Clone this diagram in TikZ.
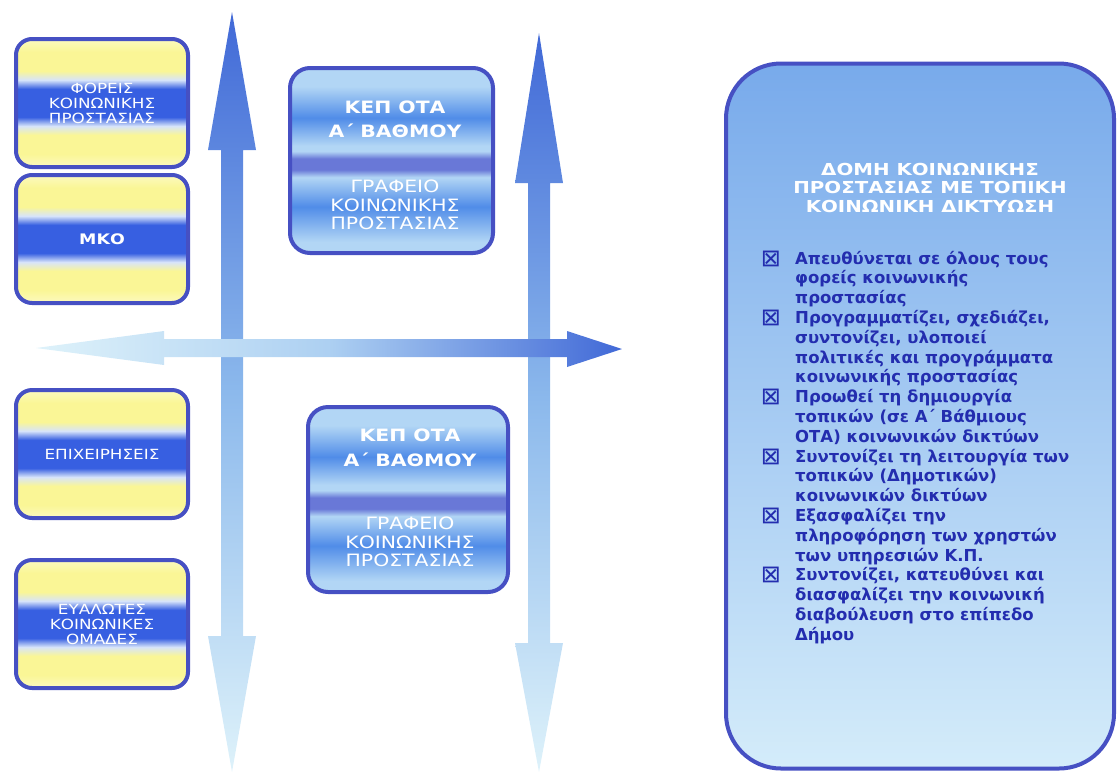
\documentclass[tikz,border=0pt]{standalone}
\usepackage{fontspec}
\setmainfont{DejaVu Sans}
\newfontfamily\widefont[FakeStretch=1.2]{DejaVu Sans}
\usetikzlibrary{positioning}

\definecolor{frameblue}{RGB}{70,80,195}
\definecolor{boxyel}{RGB}{250,246,150}
\definecolor{boxpale}{RGB}{215,228,250}
\definecolor{boxblue}{RGB}{55,95,225}
\definecolor{kepl}{RGB}{178,214,245}
\definecolor{kepm}{RGB}{80,140,232}
\definecolor{keps}{RGB}{105,120,215}
\definecolor{arrdark}{RGB}{65,105,215}
\definecolor{arrmid}{RGB}{140,185,236}
\definecolor{arrpale}{RGB}{222,242,250}
\definecolor{paneltop}{RGB}{120,170,235}
\definecolor{panelbot}{RGB}{212,236,250}
\definecolor{textblue}{RGB}{35,45,175}

% colour stops from bottom to top, the path covers 25bp..75bp
\pgfdeclareverticalshading{leftshade}{100bp}{color(0bp)=(boxyel!60!white); color(25bp)=(boxyel!60!white); color(30bp)=(boxyel); color(37.5bp)=(boxyel); color(41bp)=(boxpale); color(44.5bp)=(boxblue); color(55.5bp)=(boxblue); color(59bp)=(boxpale); color(62.5bp)=(boxyel); color(70bp)=(boxyel); color(75bp)=(boxyel!60!white); color(100bp)=(boxyel!60!white)}
\pgfdeclareverticalshading{kepshade}{100bp}{color(0bp)=(kepl); color(28bp)=(kepl); color(37.5bp)=(kepm); color(45.5bp)=(kepl); color(47.5bp)=(keps); color(50.5bp)=(keps); color(52.5bp)=(kepl); color(54bp)=(kepl); color(61.5bp)=(kepm); color(70bp)=(kepl); color(100bp)=(kepl)}

\tikzset{
  partner/.style={draw=frameblue, line width=4pt, rounded corners=16pt, shading=leftshade,
    minimum width=172pt, minimum height=128pt, text=white, align=center, inner sep=0pt,
    font=\widefont\fontsize{14}{15}\selectfont},
  kepbox/.style={draw=frameblue, line width=4pt, rounded corners=20pt, shading=kepshade, inner sep=0pt},
  keptext/.style={text=white, inner sep=0pt, font=\widefont\bfseries\fontsize{17}{19}\selectfont},
  officetext/.style={text=white, inner sep=0pt, align=center, font=\widefont\fontsize{17}{18.5}\selectfont},
  listline/.style={text=textblue, inner sep=0pt, anchor=base west, font=\bfseries\fontsize{16.5}{19.8}\selectfont},
  bulletmark/.style={text=textblue, inner sep=0pt, anchor=base, font=\fontsize{24}{19.8}\selectfont}
}

\begin{document}
\begin{tikzpicture}[x=1pt,y=-1pt]
\useasboundingbox (0,0) rectangle (1118,777);

% vertical double arrows
\shade[top color=arrdark, bottom color=arrpale, middle color=arrmid]
  (221,150) -- (208,150) -- (232,12) -- (256,150) -- (243,150) -- (243,636)
  -- (256,636) -- (232,772) -- (208,636) -- (221,636) -- cycle;
\shade[top color=arrdark, bottom color=arrpale, middle color=arrmid]
  (528,183) -- (515,183) -- (539,33) -- (563,183) -- (550,183) -- (550,643)
  -- (563,643) -- (539,772) -- (515,643) -- (528,643) -- cycle;

% horizontal double arrow
\shade[left color=arrpale, right color=arrdark, middle color=arrmid!60!arrpale]
  (36,348) -- (164,331) -- (164,339) -- (567,339) -- (567,331) -- (622,349)
  -- (567,367) -- (567,357) -- (164,357) -- (164,365) -- cycle;

% left column
\node[partner] (foreis) at (102,103) {ΦΟΡΕΙΣ\\ΚΟΙΝΩΝΙΚΗΣ\\ΠΡΟΣΤΑΣΙΑΣ};
\node[partner, font=\widefont\bfseries\fontsize{14.5}{16}\selectfont] (mko) at (102,239) {ΜΚΟ};
\node[partner] (epix) at (102,454) {ΕΠΙΧΕΙΡΗΣΕΙΣ};
\node[partner] (eval) at (102,624) {ΕΥΑΛΩΤΕΣ\\ΚΟΙΝΩΝΙΚΕΣ\\ΟΜΑΔΕΣ};

% KEP boxes
\node[kepbox, minimum width=203pt, minimum height=185pt] (kepA) at (391.5,160.5) {};
\node[keptext, anchor=base] (kepAa) at (395,113) {ΚΕΠ ΟΤΑ};
\node[keptext, anchor=base] (kepAb) at (395,137) {Α΄ ΒΑΘΜΟΥ};
\node[officetext, anchor=north] (kepAc) at (395,180) {ΓΡΑΦΕΙΟ\\ΚΟΙΝΩΝΙΚΗΣ\\ΠΡΟΣΤΑΣΙΑΣ};

\node[kepbox, minimum width=200pt, minimum height=185pt] (kepB) at (408,499.5) {};
\node[keptext, anchor=base] (kepBa) at (410,441) {ΚΕΠ ΟΤΑ};
\node[keptext, anchor=base] (kepBb) at (410,466) {Α΄ ΒΑΘΜΟΥ};
\node[officetext, anchor=north] (kepBc) at (410,517) {ΓΡΑΦΕΙΟ\\ΚΟΙΝΩΝΙΚΗΣ\\ΠΡΟΣΤΑΣΙΑΣ};

% right panel
\node[draw=frameblue, line width=4pt, rounded corners=55pt, top color=paneltop, bottom color=panelbot,
  minimum width=388pt, minimum height=705pt, inner sep=0pt] (panel) at (920,416) {};
\node[text=white, align=center, inner sep=0pt, anchor=north,
  font=\widefont\bfseries\fontsize{16.5}{18.5}\selectfont] (title) at (930,163)
  {ΔΟΜΗ ΚΟΙΝΩΝΙΚΗΣ\\ΠΡΟΣΤΑΣΙΑΣ ΜΕ ΤΟΠΙΚΗ\\ΚΟΙΝΩΝΙΚΗ ΔΙΚΤΥΩΣΗ};

\foreach \txt [count=\i from 0] in {
  {Απευθύνεται σε όλους τους}, {φορείς κοινωνικής}, {προστασίας},
  {Προγραμματίζει, σχεδιάζει,}, {συντονίζει, υλοποιεί}, {πολιτικές και προγράμματα}, {κοινωνικής προστασίας},
  {Προωθεί τη δημιουργία}, {τοπικών (σε Α΄ Βάθμιους}, {ΟΤΑ) κοινωνικών δικτύων},
  {Συντονίζει τη λειτουργία των}, {τοπικών (Δημοτικών)}, {κοινωνικών δικτύων},
  {Εξασφαλίζει την}, {πληροφόρηση των χρηστών}, {των υπηρεσιών Κ.Π.},
  {Συντονίζει, κατευθύνει και}, {διασφαλίζει την κοινωνική}, {διαβούλευση στο επίπεδο}, {Δήμου}}
  \node[listline] (line\i) at (795,264+19.8*\i) {\txt};

\foreach \i in {0,3,7,10,13,16}
  \node[bulletmark] (bul\i) at (771,266+19.8*\i) {⊠};
\end{tikzpicture}
\end{document}
